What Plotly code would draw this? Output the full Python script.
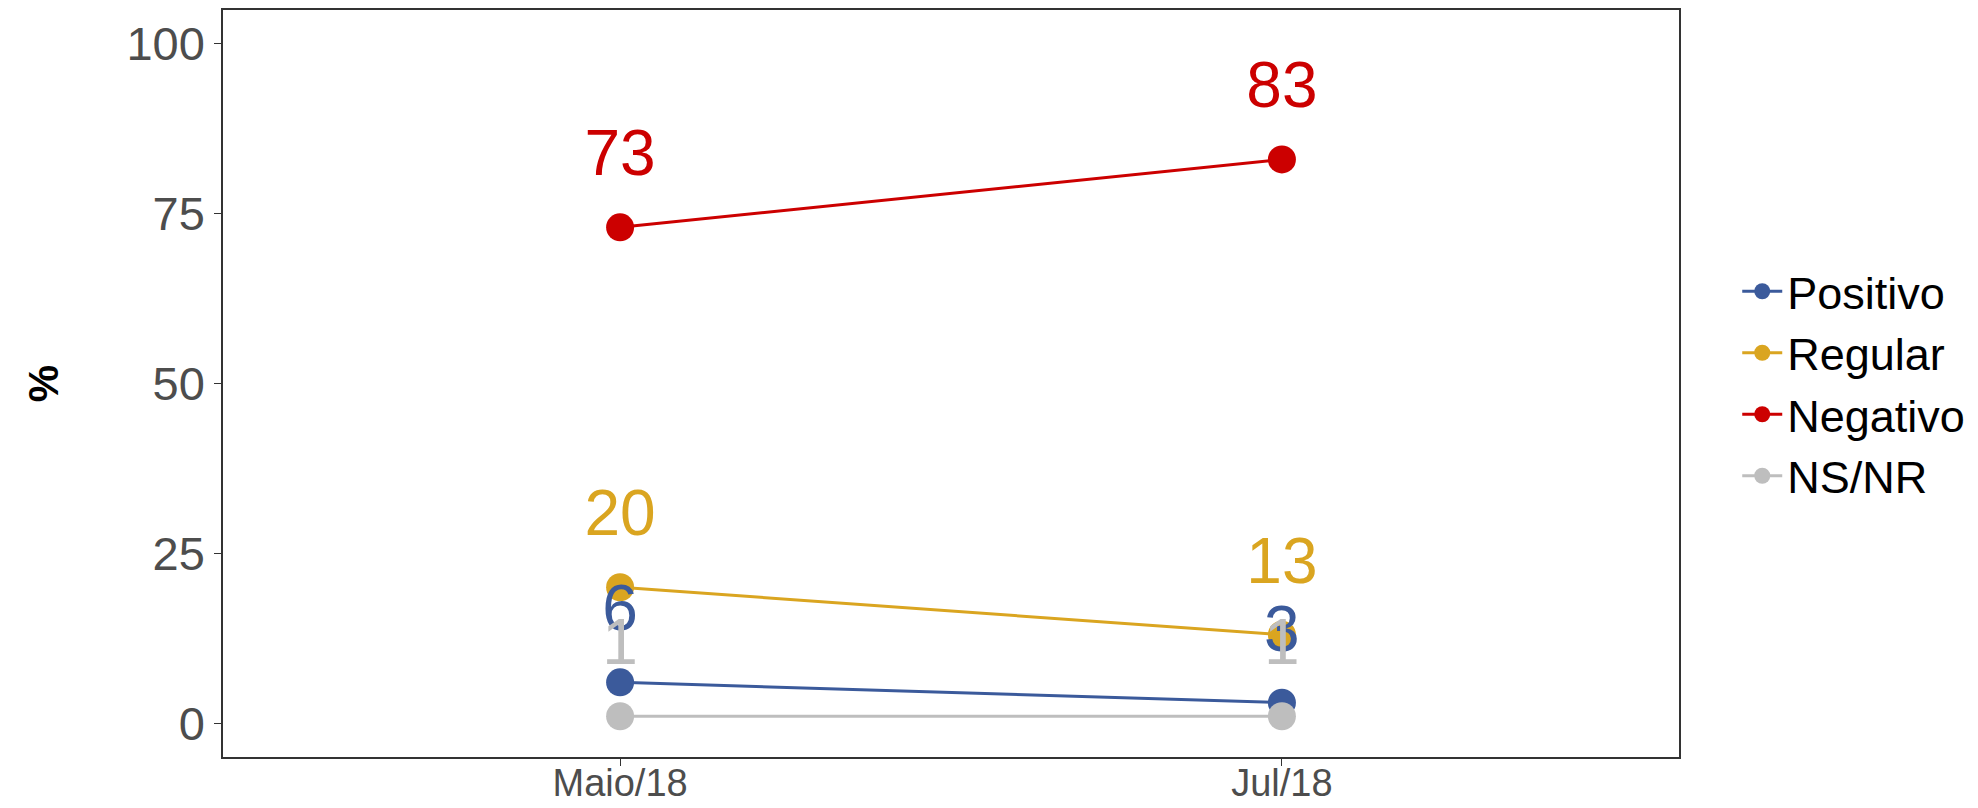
import plotly.graph_objects as go

periods = ["Maio/18", "Jul/18"]
series_names = ["Positivo", "Regular", "Negativo", "NS/NR"]
positivo = [6, 3]
regular = [20, 13]
negativo = [73, 83]
nsnr = [1, 1]
y_ticks = [0, 25, 50, 75, 100]
label_offset = 10

values = [positivo, regular, negativo, nsnr]
colors = ["#3B5A9B", "#DAA520", "#CC0000", "#BEBEBE"]

fig = go.Figure()
for name, vals, col in zip(series_names, values, colors):
    fig.add_trace(go.Scatter(
        x=periods, y=vals, name=name, mode="lines+markers",
        line=dict(color=col, width=3),
        marker=dict(color=col, size=28),
    ))
for name, vals, col in zip(series_names, values, colors):
    fig.add_trace(go.Scatter(
        x=periods, y=[v + label_offset for v in vals], mode="text",
        text=[str(v) for v in vals], textposition="middle center",
        textfont=dict(color=col, size=64, family="Liberation Sans, Arial"),
        showlegend=False, hoverinfo="skip",
    ))

fig.update_layout(
    width=1970, height=800,
    margin=dict(l=215, r=299, t=2, b=51),
    paper_bgcolor="white", plot_bgcolor="white",
    font=dict(family="Liberation Sans, Arial", color="#4D4D4D"),
    showlegend=True,
    legend=dict(
        x=1.04, xanchor="left", y=0.5, yanchor="middle",
        font=dict(size=45, color="black"),
        itemwidth=40,
        bgcolor="rgba(0,0,0,0)",
    ),
)
fig.update_xaxes(
    type="category", range=[-0.6, 1.6], automargin=False,
    showline=True, mirror=True, linecolor="#333333", linewidth=1.5,
    ticks="outside", ticklen=7, tickcolor="#333333",
    tickfont=dict(size=38, color="#4D4D4D"),
    ticklabelstandoff=-15,
    showgrid=False, zeroline=False,
)
fig.update_yaxes(
    range=[-5, 105], tickvals=y_ticks, ticktext=[str(t) for t in y_ticks],
    automargin=False,
    showline=True, mirror=True, linecolor="#333333", linewidth=1.5,
    ticks="outside", ticklen=7, tickcolor="#333333",
    tickfont=dict(size=47, color="#4D4D4D"),
    showgrid=False, zeroline=False,
    title=dict(text="<b>%</b>", font=dict(size=42, color="black"), standoff=55),
)

fig.write_html("out.html")
